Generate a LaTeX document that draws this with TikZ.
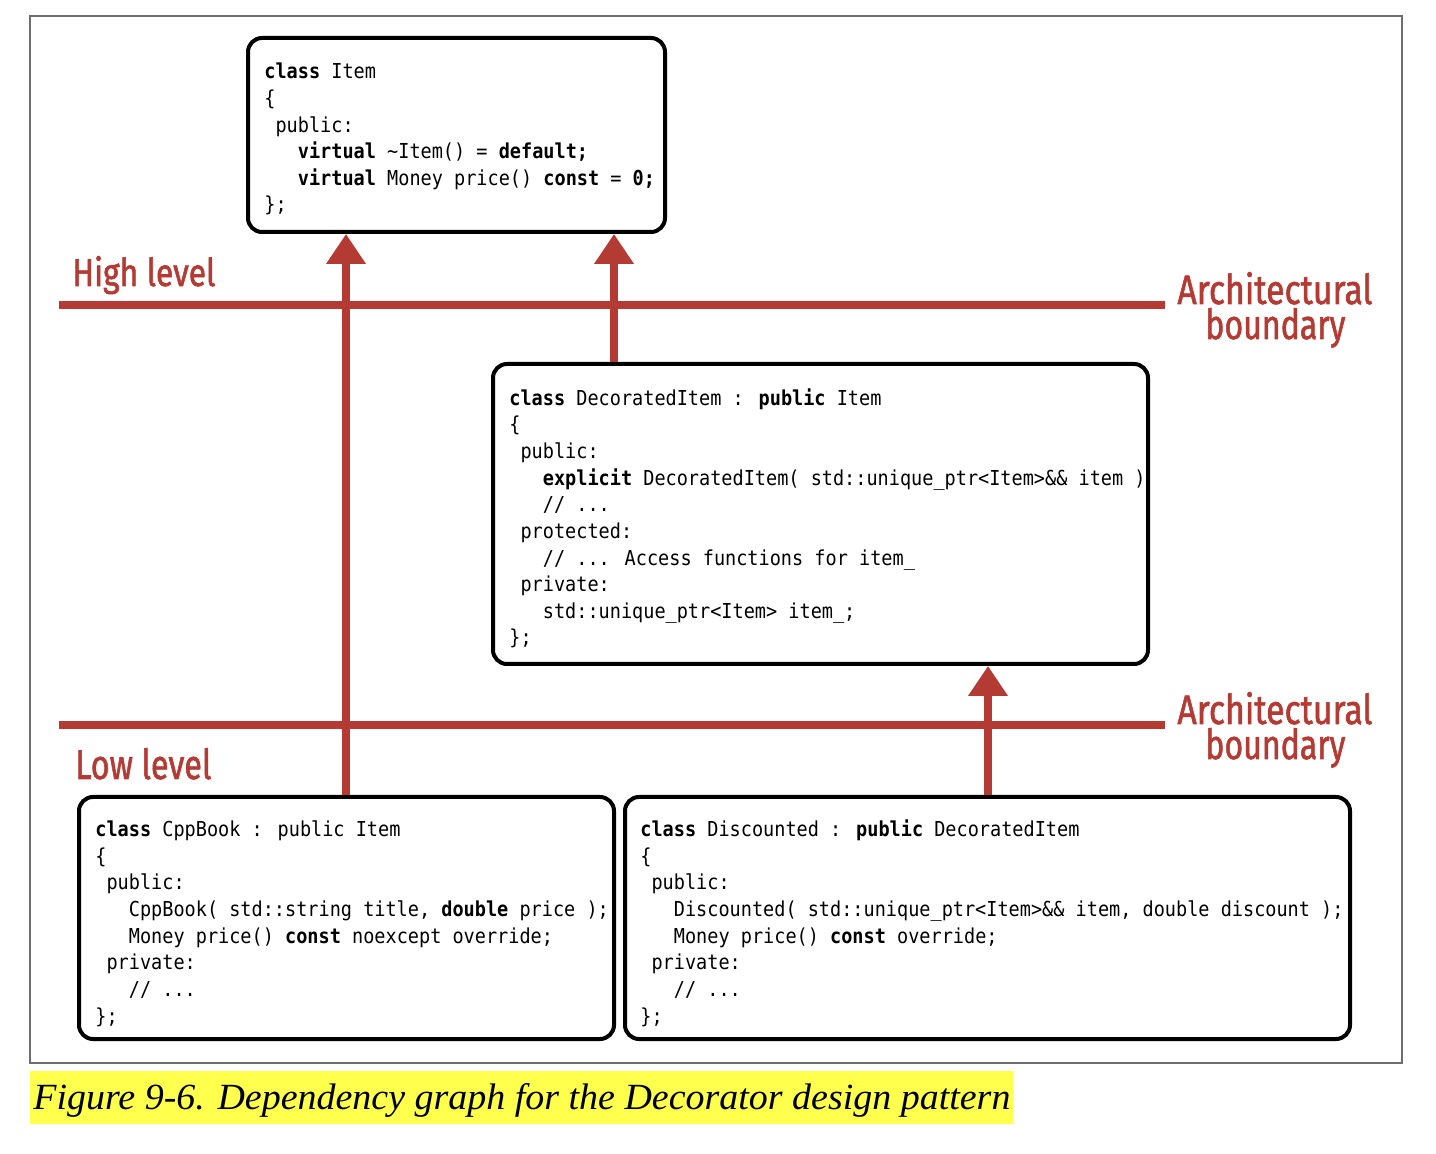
\documentclass[tikz,border=0pt]{standalone}
\usepackage{fontspec}
\usepackage{graphicx}
\setmainfont{Liberation Serif}
\newfontfamily\codefont{DejaVu Sans Mono}[FakeStretch=0.9]
\newfontfamily\labelfont{Fira Sans}[FakeBold=1.6]
\usetikzlibrary{arrows.meta,fit}
\definecolor{archred}{RGB}{180,58,52}
\definecolor{hlyellow}{RGB}{255,255,77}
\definecolor{framegray}{RGB}{110,110,110}
\newcommand\ind[1]{\mbox{\phantom{#1}}}
\newcommand\kw[1]{\textbf{#1}}
\begin{document}
\begin{tikzpicture}[x=0.5pt,y=-0.5pt,
  box/.style={draw=black, line width=2pt, rounded corners=7pt, inner sep=0pt},
  code/.style={anchor=base west, inner sep=0pt, align=left, font=\codefont\fontsize{10.3pt}{13.33pt}\selectfont},
  dep/.style={draw=archred, line width=3.6pt, -{Triangle[width=19pt,length=15pt]}},
  bound/.style={draw=archred, line width=3.6pt},
  lbl/.style={text=archred, inner sep=0pt, anchor=base west, font=\labelfont},
]
\useasboundingbox (0,0) rectangle (1436,1154);
% outer frame
\draw[framegray, line width=0.8pt] (30,16) rectangle (1402,1063);
% boundaries
\coordinate (b1l) at (59,305);
\coordinate (b1r) at (1165,305);
\coordinate (b2l) at (59,725);
\coordinate (b2r) at (1165,725);
\draw[bound] (b1l) -- (b1r);
\draw[bound] (b2l) -- (b2r);
% labels
\node[lbl] (hl) at (72,286) {\resizebox{71.5pt}{15pt}{High level}};
\node[lbl] (ll) at (75,779) {\resizebox{68pt}{15.5pt}{Low level}};
\node[lbl] (ab1a) at (1177,304) {\resizebox{97.5pt}{16pt}{Architectural}};
\node[lbl] (ab1b) at (1205,339) {\resizebox{70pt}{15.5pt}{boundary}};
\node[lbl] (ab2a) at (1177,724) {\resizebox{97.5pt}{16pt}{Architectural}};
\node[lbl] (ab2b) at (1205,759) {\resizebox{70pt}{15.5pt}{boundary}};
% boxes
\node[box, fit={(248,38) (665,232)}] (item) {};
\node[box, fit={(493,364) (1148,664)}] (deco) {};
\node[box, fit={(79,797) (614,1039)}] (cpp) {};
\node[box, fit={(625,797) (1350,1039)}] (disc) {};
% code (anchored at the baseline of the last line)
\node[code] (itemcode) at (264,212) {\kw{class} Item\\
\{\\
\ind{x}public:\\
\ind{xxx}\kw{virtual} \textasciitilde Item() = \kw{default;}\\
\ind{xxx}\kw{virtual} Money price() \kw{const} = \kw{0;}\\
\};};
\node[code] (decocode) at (509,645) {\kw{class} DecoratedItem : \kw{public} Item\\
\{\\
\ind{x}public:\\
\ind{xxx}\kw{explicit} DecoratedItem( std::unique\_ptr<Item>\&\& item )\\
\ind{xxx}// ...\\
\ind{x}protected:\\
\ind{xxx}// ... Access functions for item\_\\
\ind{x}private:\\
\ind{xxx}std::unique\_ptr<Item> item\_;\\
\};};
\node[code] (cppcode) at (95,1023) {\kw{class} CppBook : public Item\\
\{\\
\ind{x}public:\\
\ind{xxx}CppBook( std::string title, \kw{double} price );\\
\ind{xxx}Money price() \kw{const} noexcept override;\\
\ind{x}private:\\
\ind{xxx}// ...\\
\};};
\node[code] (disccode) at (640,1023) {\kw{class} Discounted : \kw{public} DecoratedItem\\
\{\\
\ind{x}public:\\
\ind{xxx}Discounted( std::unique\_ptr<Item>\&\& item, double discount );\\
\ind{xxx}Money price() \kw{const} override;\\
\ind{x}private:\\
\ind{xxx}// ...\\
\};};
% arrows
\coordinate (a1) at (346,0);
\coordinate (a2) at (614,0);
\coordinate (a3) at (988,0);
\draw[dep] (cpp.north -| a1) -- (item.south -| a1);
\draw[dep] (deco.north -| a2) -- (item.south -| a2);
\draw[dep] (disc.north -| a3) -- (deco.south -| a3);
% caption
\fill[hlyellow] (30,1071) rectangle (1013,1124);
\node[anchor=base west, inner sep=0pt] (cap) at (33,1109) {\resizebox{488.5pt}{13pt}{\itshape Figure 9-6. Dependency graph for the Decorator design pattern}};
\end{tikzpicture}
\end{document}
